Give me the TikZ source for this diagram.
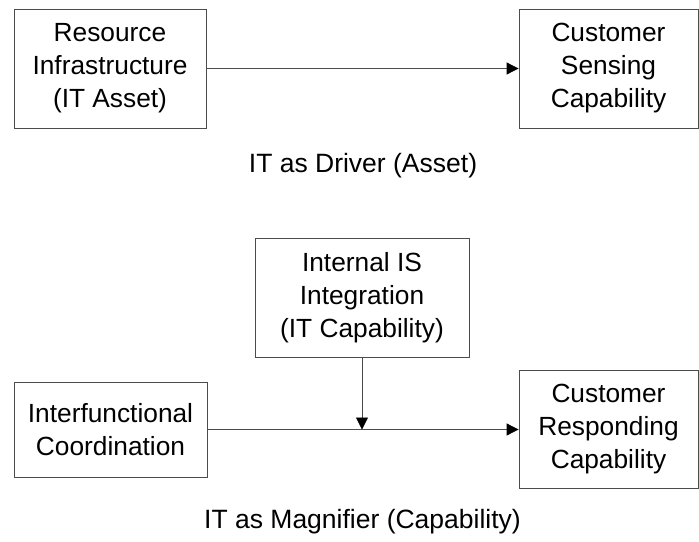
\documentclass[tikz,border=0pt]{standalone}
\usepackage{fontspec}
\setmainfont{Liberation Sans}
\usetikzlibrary{arrows.meta}
\tikzset{
  box/.style={draw=black!70, line width=0.8pt, align=center, inner sep=0pt,
    font=\fontsize{26.3}{33}\selectfont},
  flow/.style={draw=black!70, line width=0.8pt,
    -{Triangle[length=12pt,width=12pt,color=black]}},
  caption/.style={font=\fontsize{26.5}{30}\selectfont}
}
\begin{document}
\begin{tikzpicture}[x=1pt,y=-1pt]
  \useasboundingbox (0,0) rectangle (699,541);
  % upper model: IT as driver
  \node[box, minimum width=192pt, minimum height=119pt] (res) at (110,68.5)
    {Resource\\Infrastructure\\(IT Asset)};
  \node[box, minimum width=179pt, minimum height=119pt] (sense) at (608.5,68.5)
    {Customer\\Sensing\\Capability};
  \draw[flow] (res.east) -- (sense.west);
  \node[caption] (driver) at (363,166) {IT as Driver (Asset)};
  % lower model: IT as magnifier
  \node[box, minimum width=214pt, minimum height=119pt] (integ) at (362,297.5)
    {Internal IS\\Integration\\(IT Capability)};
  \node[box, minimum width=193pt, minimum height=95pt] (coord) at (110.5,429.5)
    {Interfunctional\\Coordination};
  \node[box, minimum width=179pt, minimum height=118pt] (respond) at (608.5,429.5)
    {Customer\\Responding\\Capability};
  \draw[flow] (coord.east) -- (coord.east -| respond.west);
  \coordinate (meet) at (integ.south |- coord.east);
  \draw[flow] (integ.south) -- (meet);
  \node[caption] (magnifier) at (362.5,522) {IT as Magnifier (Capability)};
\end{tikzpicture}
\end{document}
